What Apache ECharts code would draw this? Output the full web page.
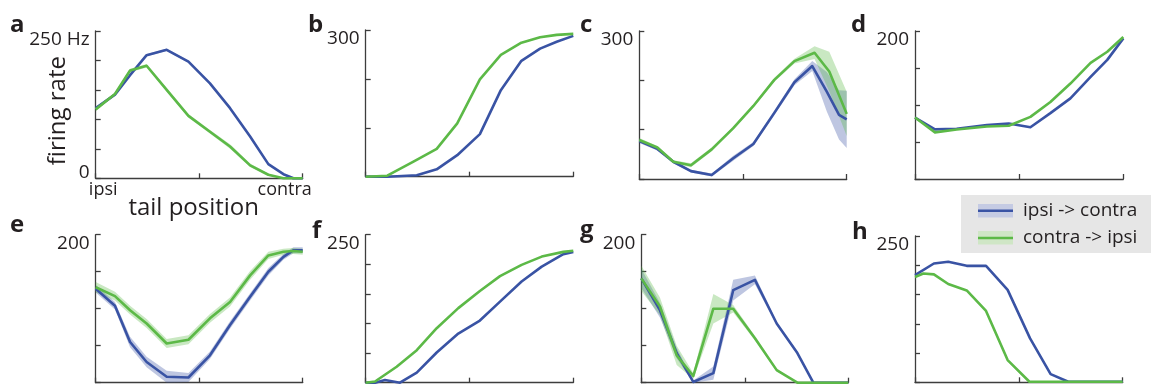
<!DOCTYPE html>
<html><head><meta charset="utf-8">
<script src="https://cdn.jsdelivr.net/npm/echarts@6/dist/echarts.min.js"></script>
<style>html,body{margin:0;padding:0;background:#fff}#c{width:1151px;height:387px}</style>
</head><body><div id="c"></div>
<script>
// ---------- data ----------
const panelLetters = ['a','b','c','d','e','f','g','h'];
const yMaxes = [250, 300, 300, 200, 200, 250, 200, 250];
const ySplitCounts = [5, 3, 3, 4, 4, 5, 4, 5];
const topTickLabels = ['250 Hz', '300', '300', '200', '200', '250', '200', '250'];
const seriesNames = ['ipsi -> contra', 'contra -> ipsi'];

// a
const aBlueX = [0,0.093,0.166,0.246,0.343,0.448,0.552,0.649,0.746,0.834,0.907,0.955,1];
const aBlueY = [119,142,175,209,218,198,161,119,71,24,7,0,0];
const aBlueErr = [2,2,2,2,2,2,2,2,2,2,1,0,0];
const aGreenX = [0,0.093,0.166,0.246,0.343,0.448,0.552,0.649,0.746,0.834,0.907,1];
const aGreenY = [117,143,183,191,150,106,79,54,22,6,0,0];
const aGreenErr = [3,2,3,3,3,3,3,4,3,2,0,0];
// b
const bBlueX = [0,0.104,0.246,0.342,0.441,0.55,0.651,0.75,0.84,0.92,1];
const bBlueY = [0,0,3,15,44,87,177,237,262,276,288];
const bGreenX = [0,0.104,0.23,0.342,0.441,0.55,0.651,0.75,0.84,0.92,1];
const bGreenY = [0,2,31,57,109,199,249,274,285,290,292];
// c
const cBlueX = [0,0.087,0.164,0.249,0.349,0.453,0.55,0.651,0.748,0.834,0.904,0.963,1];
const cBlueY = [77,61,35,16,8,42,71,134,196,229,177,130,121];
const cBlueErr = [4,3,3,3,3,5,4,5,6,10,40,50,58];
const cGreenX = [0,0.087,0.164,0.249,0.349,0.453,0.55,0.651,0.748,0.845,0.916,1];
const cGreenY = [79,64,35,28,60,103,148,201,239,256,218,132];
const cGreenErr = [4,3,3,4,4,3,3,4,5,13,40,45];
// d
const dX = [0,0.096,0.2,0.345,0.45,0.554,0.65,0.746,0.843,0.923,1];
const dBlueY = [83,67,68,73,75,70,89,109,138,161,190];
const dGreenY = [83,63,67,71,72,84,104,129,157,172,192];
// e
const eX = [0,0.093,0.166,0.246,0.343,0.448,0.552,0.649,0.746,0.834,0.907,0.955,1];
const eBlueY = [127,104,55,28,8,7,37,78,116,150,170,179,179];
const eBlueErr = [5,5,7,7,8,6,5,5,5,5,4,4,4];
const eGreenY = [129,117,98,80,53,58,87,109,145,172,177,178,177];
const eGreenErr = [7,6,6,6,6,6,6,6,6,5,4,4,4];
// f
const fBlueX = [0,0.045,0.093,0.165,0.246,0.342,0.446,0.55,0.647,0.751,0.848,0.952,1];
const fBlueY = [0,0,4.5,0,17,51,83,105,137,171,196,217,221];
const fGreenX = [0,0.045,0.149,0.246,0.342,0.446,0.55,0.647,0.751,0.848,0.952,1];
const fGreenY = [0,2,27,55,92,126,155,180,199,213,221,223];
// g
const gBlueX = [0,0.09,0.171,0.251,0.348,0.444,0.549,0.654,0.754,0.831,1];
const gBlueY = [141,98,40,1,13,125,139,80,40,0,0];
const gBlueErr = [13,10,7,2,9,14,6,2,2,0,0];
const gGreenX = [0,0.09,0.171,0.251,0.348,0.444,0.549,0.654,0.754,1];
const gGreenY = [141,103,37,9,100,100,60,17,0,0];
const gGreenErr = [17,12,13,4,20,5,3,2,0,0];
// h
const hBlueX = [0,0.091,0.16,0.249,0.342,0.446,0.554,0.653,0.738,1];
const hBlueY = [183,203,206,199,199,158,75,14,1,1];
const hGreenX = [0,0.04,0.091,0.16,0.249,0.342,0.446,0.551,1];
const hGreenY = [180,186,184.5,168,157,122,38,1,1];

// ---------- layout / style ----------
const FONT = '"Open Sans","Noto Sans",sans-serif';
const TXT = '#231f20';
const AX = '#3d3d3d';
const BLUE = '#3953a4';
const GREEN = '#5cb947';
const BLUE_BAND = 'rgba(57,83,164,0.33)';
const GREEN_BAND = 'rgba(92,185,71,0.33)';
const gridBoxes = [
  [95.7, 31, 207, 147.3],
  [365.7, 30, 207.6, 146.7],
  [639.3, 31, 207.4, 148],
  [915, 31, 208.3, 148],
  [95.7, 234.7, 207, 148],
  [365.7, 234.7, 207.6, 148],
  [641.3, 234.7, 207, 148],
  [915, 236, 207.7, 146.3]
];
const letterPos = [[10,31.5],[308,31.5],[580,31.5],[851,31.5],[10,232],[312,237.5],[580,237],[852,238.5]];
const LETTER_SIZE = 24;

const blueData = [
  [aBlueX, aBlueY, aBlueErr], [bBlueX, bBlueY, null], [cBlueX, cBlueY, cBlueErr], [dX, dBlueY, null],
  [eX, eBlueY, eBlueErr], [fBlueX, fBlueY, null], [gBlueX, gBlueY, gBlueErr], [hBlueX, hBlueY, null]
];
const greenData = [
  [aGreenX, aGreenY, aGreenErr], [bGreenX, bGreenY, null], [cGreenX, cGreenY, cGreenErr], [dX, dGreenY, null],
  [eX, eGreenY, eGreenErr], [fGreenX, fGreenY, null], [gGreenX, gGreenY, gGreenErr], [hGreenX, hGreenY, null]
];

const grids = [], xAxes = [], yAxes = [], series = [], graphics = [];

function bandSeries(gi, xs, ys, errs, color) {
  return {
    type: 'custom', xAxisIndex: gi, yAxisIndex: gi, silent: true, z: 1, clip: false,
    data: xs.map((x, i) => [x, ys[i], errs[i]]),
    encode: { x: 0, y: 1 },
    renderItem(params, api) {
      if (params.dataIndex !== 0) return null;
      const up = xs.map((x, i) => api.coord([x, ys[i] + errs[i]]));
      const lo = xs.map((x, i) => api.coord([x, Math.max(0, ys[i] - errs[i])])).reverse();
      return { type: 'polygon', shape: { points: up.concat(lo) }, style: { fill: color } };
    }
  };
}
function lineSeries(gi, name, xs, ys, color, z) {
  return {
    type: 'line', name, xAxisIndex: gi, yAxisIndex: gi, z,
    data: xs.map((x, i) => [x, ys[i]]),
    symbol: 'none', clip: false,
    lineStyle: { color, width: 2.6, join: 'round' }, itemStyle: { color }
  };
}

for (let i = 0; i < 8; i++) {
  const [l, t, w, h] = gridBoxes[i];
  grids.push({ left: l, top: t, width: w, height: h, containLabel: false });
  const isA = i === 0;
  const mx = yMaxes[i];
  const topLab = topTickLabels[i];
  xAxes.push({
    type: 'value', gridIndex: i, min: 0, max: 1, interval: 0.5,
    axisLine: { show: true, lineStyle: { color: AX, width: 1.3 } },
    axisTick: { show: true, inside: true, length: 5, lineStyle: { color: AX, width: 1.3 } },
    splitLine: { show: false },
    axisLabel: isA ? {
      show: true, margin: 3, color: TXT, fontFamily: FONT, fontSize: 18,
      formatter: v => v === 0 ? '{l|ipsi}' : (v === 1 ? '{r|contra}' : ''),
      rich: { l: { fontFamily: FONT, fontSize: 18, color: TXT, padding: [0, 0, 0, 15] },
              r: { fontFamily: FONT, fontSize: 18, color: TXT, padding: [0, 36, 0, 0] } }
    } : { show: false },
    name: isA ? 'tail position' : '', nameLocation: 'middle', nameGap: 18, nameMoveOverlap: false,
    nameTextStyle: { fontFamily: FONT, fontSize: 24, color: TXT, padding: [0, 11, 0, 0] }
  });
  yAxes.push({
    type: 'value', gridIndex: i, min: 0, max: mx, interval: mx / ySplitCounts[i],
    axisLine: { show: true, lineStyle: { color: AX, width: 1.3 } },
    axisTick: { show: true, inside: true, length: 5, lineStyle: { color: AX, width: 1.3 } },
    splitLine: { show: false },
    axisLabel: {
      show: true, margin: 6, color: TXT, fontFamily: FONT, fontSize: 19, verticalAlign: 'middle',
      formatter: v => v === mx ? '{t|' + topLab + '}' : ((isA && v === 0) ? '{z|0}' : ''),
      rich: { t: { fontFamily: FONT, fontSize: 19, color: TXT, padding: [17, 0, 0, 0] },
              z: { fontFamily: FONT, fontSize: 19, color: TXT, padding: [0, 0, 11, 0] } }
    },
    name: isA ? 'firing rate' : '', nameLocation: 'middle', nameGap: 26, nameRotate: 90, nameMoveOverlap: false,
    nameTextStyle: { fontFamily: FONT, fontSize: 24, color: TXT, padding: [0, 12, 0, 0] }
  });
  const [bx, by, be] = blueData[i];
  const [gx, gy, ge] = greenData[i];
  if (be) series.push(bandSeries(i, bx, by, be, BLUE_BAND));
  if (ge) series.push(bandSeries(i, gx, gy, ge, GREEN_BAND));
  series.push(lineSeries(i, seriesNames[0], bx, by, BLUE, 3));
  series.push(lineSeries(i, seriesNames[1], gx, gy, GREEN, 4));
  graphics.push({
    type: 'text', x: letterPos[i][0], y: letterPos[i][1] - 0.285 * LETTER_SIZE, z: 10,
    style: { text: panelLetters[i], font: 'bold ' + LETTER_SIZE + 'px ' + FONT, fill: TXT, verticalAlign: 'middle', align: 'left' }
  });
}

// legend box
graphics.push({ type: 'rect', shape: { x: 961, y: 195, width: 190, height: 58 }, style: { fill: '#e6e6e6' }, z: 5 });
graphics.push({ type: 'rect', shape: { x: 978, y: 204, width: 35, height: 13.5 }, style: { fill: '#c5cbe3' }, z: 6 });
graphics.push({ type: 'line', shape: { x1: 978, y1: 210.7, x2: 1013, y2: 210.7 }, style: { stroke: BLUE, lineWidth: 2.5 }, z: 7 });
graphics.push({ type: 'rect', shape: { x: 978, y: 231, width: 35, height: 13.5 }, style: { fill: '#cfe6c6' }, z: 6 });
graphics.push({ type: 'line', shape: { x1: 978, y1: 238, x2: 1013, y2: 238 }, style: { stroke: GREEN, lineWidth: 2.5 }, z: 7 });
graphics.push({ type: 'text', x: 1023, y: 211, z: 7, style: { text: seriesNames[0], font: '19px ' + FONT, fill: TXT, verticalAlign: 'middle' } });
graphics.push({ type: 'text', x: 1023, y: 237.5, z: 7, style: { text: seriesNames[1], font: '19px ' + FONT, fill: TXT, verticalAlign: 'middle' } });

const chart = echarts.init(document.getElementById('c'), null, { renderer: 'canvas' });
chart.setOption({
  animation: false,
  backgroundColor: '#ffffff',
  grid: grids, xAxis: xAxes, yAxis: yAxes, series, graphic: graphics
});
</script></body></html>
